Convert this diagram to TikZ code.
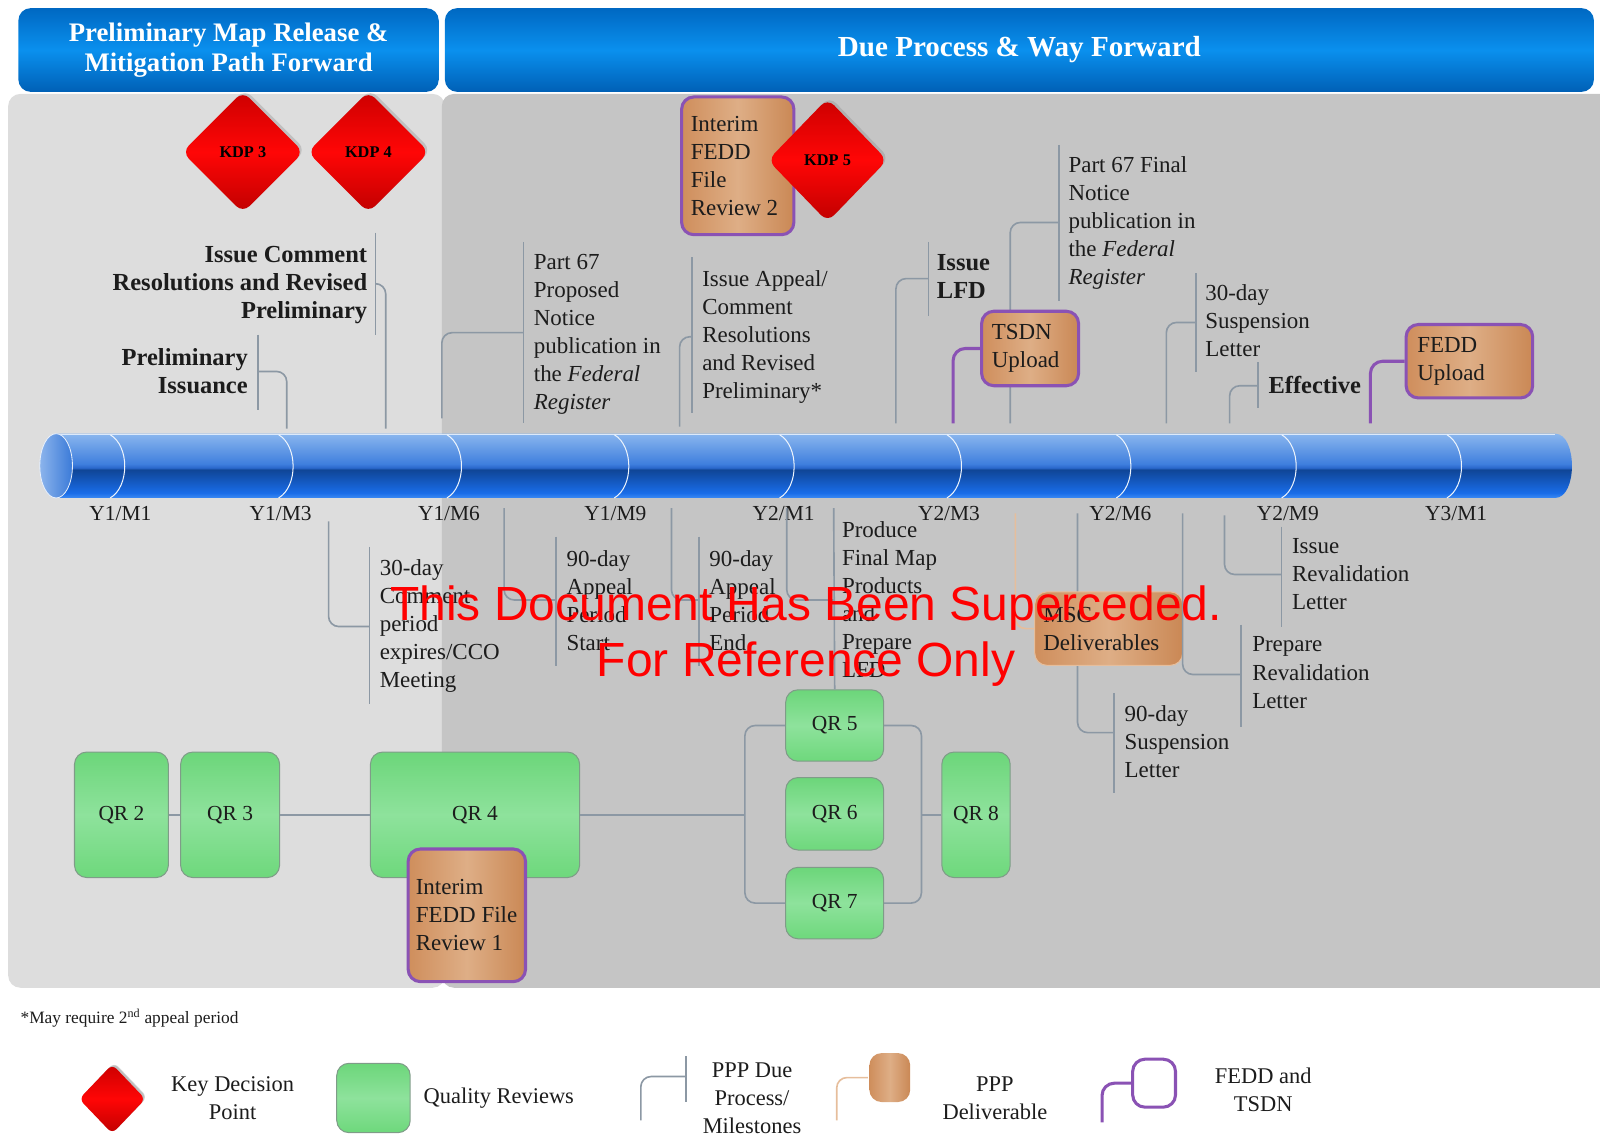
\documentclass[tikz,border=0pt]{standalone}
\usepackage{fontspec}
\setmainfont{Liberation Serif}
\newfontfamily\wmfont{Liberation Sans}
\usetikzlibrary{shapes.geometric,shadows}
\definecolor{hdtop}{HTML}{0068C2}
\definecolor{hdmid}{HTML}{0A90EE}
\definecolor{hdbot}{HTML}{0060B6}
\definecolor{panelL}{HTML}{DDDDDD}
\definecolor{panelR}{HTML}{C5C5C5}
\definecolor{connc}{HTML}{8C98A4}
\definecolor{purp}{HTML}{8A52B4}
\definecolor{tanL}{HTML}{CF8E5C}
\definecolor{tanM}{HTML}{DEAE86}
\definecolor{tanR}{HTML}{CA8855}
\definecolor{tanline}{HTML}{E6BE9C}
\definecolor{grT}{HTML}{6CD67A}
\definecolor{grM}{HTML}{8EE29C}
\definecolor{grB}{HTML}{6ED87C}
\definecolor{grBd}{HTML}{7F9C88}
\definecolor{kdpT}{HTML}{CC0000}
\definecolor{kdpM}{HTML}{FF0606}
\definecolor{kdpB}{HTML}{C00000}
\definecolor{cyA}{HTML}{3C8AF4}
\definecolor{cyB}{HTML}{196CE8}
\definecolor{cyC}{HTML}{0F4596}
\definecolor{cyD}{HTML}{2A68CC}
\definecolor{cyE}{HTML}{3F7FDE}
\definecolor{cyF}{HTML}{8AB6EE}
\definecolor{capL}{HTML}{8CB4EC}
\definecolor{capR}{HTML}{3A7AD8}
\definecolor{txt}{HTML}{1C1C1C}
\pgfdeclareverticalshading{cylshade}{100bp}{color(0bp)=(cyA); color(25bp)=(cyA); color(29bp)=(cyB); color(47bp)=(cyC); color(48.5bp)=(cyD); color(51.5bp)=(cyE); color(75bp)=(cyF); color(100bp)=(cyF)}
\tikzset{
  hdr/.style={rounded corners=12, top color=hdtop, bottom color=hdbot, middle color=hdmid, text=white, align=center, inner sep=0},
  kdp/.style={diamond, aspect=1, minimum width=119, minimum height=119, inner sep=0, rounded corners=9, top color=kdpT, bottom color=kdpB, middle color=kdpM, font=\bfseries\fontsize{16}{18}\selectfont, drop shadow={opacity=.3, shadow xshift=2, shadow yshift=-2}},
  tanbox/.style={rounded corners=12, left color=tanL, right color=tanR, middle color=tanM, draw=purp, line width=3, align=flush left, inner sep=0, text=txt, font=\fontsize{22.5}{27.5}\selectfont},
  qr/.style={rounded corners=12, top color=grT, bottom color=grB, middle color=grM, draw=grBd, line width=1, font=\fontsize{21}{24}\selectfont, inner sep=0, text=txt},
  lbl/.style={font=\fontsize{22.5}{27.5}\selectfont, inner sep=0, align=left, anchor=north west, text=txt},
  lblb/.style={font=\bfseries\fontsize{24}{27.5}\selectfont, inner sep=0, text=txt},
  mon/.style={font=\fontsize{21}{24}\selectfont, inner sep=0, text=txt},
  conn/.style={draw=connc, line width=1.6, rounded corners=10},
  brk/.style={draw=connc, line width=1.6},
  pconn/.style={draw=purp, line width=3, rounded corners=12},
  tconn/.style={draw=tanline, line width=1.6, rounded corners=10},
  wm/.style={font=\wmfont\fontsize{47}{50}\selectfont, text=red, inner sep=0},
  leg/.style={font=\fontsize{22}{27.5}\selectfont, inner sep=0, align=center, text=txt}
}
\begin{document}
\begin{tikzpicture}[x=1pt,y=-1pt]
\useasboundingbox (0,0) rectangle (1568,1114);
% panels
\fill[panelL, rounded corners=12] (8,92) rectangle (436,968);
\fill[panelR, rounded corners=12] (433,92) rectangle (1580,968);
% headers
\node[hdr, minimum width=412, minimum height=82, font=\bfseries\fontsize{26.2}{29}\selectfont] (hdrL) at (224,49) {Preliminary Map Release \&\\Mitigation Path Forward};
\node[hdr, minimum width=1126, minimum height=82, font=\bfseries\fontsize{28.5}{30}\selectfont] (hdrR) at (999,49) {Due Process \& Way Forward};

% ---------- timeline ----------
\path[shading=cylshade] (55,425) -- (1524,425) .. controls (1546,425) and (1546,488) .. (1524,488) -- (55,488) -- cycle;
\draw[white!70!cyF, line width=1] (55,425.5) -- (1524,425.5);
\shade[left color=capL, right color=capR, draw=white!80!cyF, line width=0.8] (55,456.5) ellipse [x radius=16, y radius=31.5];
\foreach \b in {122,287,452,616,778,942,1108,1270,1432}{
  \draw[white!85!cyF, line width=1] (\b-14,426) .. controls (\b+5,437) and (\b+5,477) .. (\b-14,488);
}
\node[mon] (m1) at (118,503) {Y1/M1};
\node[mon] (m3) at (275,503) {Y1/M3};
\node[mon] (m6) at (440,503) {Y1/M6};
\node[mon] (m9) at (603,503) {Y1/M9};
\node[mon] (m12) at (768,503) {Y2/M1};
\node[mon] (m15) at (930,503) {Y2/M3};
\node[mon] (m18) at (1098,503) {Y2/M6};
\node[mon] (m21) at (1262,503) {Y2/M9};
\node[mon] (m24) at (1427,503) {Y3/M1};

% ---------- above the timeline ----------
% Issue Comment Resolutions
\node[lblb, anchor=north east, align=right] (icr) at (360,241) {Issue Comment\\Resolutions and Revised\\Preliminary};
\coordinate (icrT) at (368,228); \coordinate (icrB) at (368,328);
\coordinate (icrJ) at (368,278); \coordinate (icrL) at (378,420);
\draw[brk] (icrT) -- (icrB);
\draw[conn] (icrJ) -| (icrL);
% Preliminary Issuance
\node[lblb, anchor=north east, align=right] (pis) at (243,341) {Preliminary\\Issuance};
\coordinate (pisT) at (253,328); \coordinate (pisB) at (253,402);
\coordinate (pisJ) at (253,364); \coordinate (pisL) at (281,420);
\draw[brk] (pisT) -- (pisB);
\draw[conn] (pisJ) -| (pisL);
% Part 67 Proposed
\node[lbl] (ppn) at (523,249) {Part 67\\Proposed\\Notice\\publication in\\the \textit{Federal}\\\textit{Register}};
\coordinate (ppnT) at (513,237); \coordinate (ppnB) at (513,415);
\coordinate (ppnJ) at (513,326); \coordinate (ppnL) at (433,410);
\draw[brk] (ppnT) -- (ppnB);
\draw[conn] (ppnJ) -| (ppnL);
% Issue Appeal
\node[lbl] (iap) at (688,265) {Issue Appeal/\\Comment\\Resolutions\\and Revised\\Preliminary*};
\coordinate (iapT) at (678,252); \coordinate (iapB) at (678,405);
\coordinate (iapJ) at (678,330); \coordinate (iapL) at (666,418);
\draw[brk] (iapT) -- (iapB);
\draw[conn] (iapJ) -| (iapL);
% Issue LFD
\node[lblb, anchor=north west, align=left] (lfd) at (918,249) {Issue\\LFD};
\coordinate (lfdT) at (910,237); \coordinate (lfdB) at (910,310);
\coordinate (lfdJ) at (910,273); \coordinate (lfdL) at (878,415);
\draw[brk] (lfdT) -- (lfdB);
\draw[conn] (lfdJ) -| (lfdL);
% Part 67 Final
\node[lbl] (pfn) at (1047,153) {Part 67 Final\\Notice\\publication in\\the \textit{Federal}\\\textit{Register}};
\coordinate (pfnT) at (1038,142); \coordinate (pfnB) at (1038,295);
\coordinate (pfnJ) at (1038,218); \coordinate (pfnL) at (990,415);
\draw[brk] (pfnT) -- (pfnB);
\draw[conn] (pfnJ) -| (pfnL);
% TSDN Upload
\node[tanbox, minimum width=95, minimum height=73, text width=75] (tsdn) at (1009.5,341.5) {TSDN\\Upload};
\coordinate (tsdnL) at (934,415);
\draw[pconn] (tsdn.west) -| (tsdnL);
% 30-day Suspension
\node[lbl] (s30) at (1181,279) {30-day\\Suspension\\Letter};
\coordinate (s30T) at (1172,268); \coordinate (s30B) at (1172,365);
\coordinate (s30J) at (1172,316); \coordinate (s30L) at (1143,415);
\draw[brk] (s30T) -- (s30B);
\draw[conn] (s30J) -| (s30L);
% Effective
\node[lblb, anchor=west] (eff) at (1243,377) {Effective};
\coordinate (effT) at (1233,355); \coordinate (effB) at (1233,400);
\coordinate (effJ) at (1233,378); \coordinate (effL) at (1205,415);
\draw[brk] (effT) -- (effB);
\draw[conn] (effJ) -| (effL);
% FEDD Upload
\node[tanbox, minimum width=124, minimum height=72, text width=102] (fedd) at (1440,354) {FEDD\\Upload};
\coordinate (feddL) at (1343,415);
\draw[pconn] (fedd.west) -| (feddL);
% KDPs and Interim FEDD File Review 2
\node[kdp] (kdp3) at (238,149) {KDP 3};
\node[kdp] (kdp4) at (361,149) {KDP 4};
\node[tanbox, minimum width=110, minimum height=135, text width=92] (ifr2) at (723,162.5) {Interim\\FEDD\\File\\Review 2};
\node[kdp, minimum width=117, minimum height=121] (kdp5) at (811,157) {KDP 5};

% ---------- below the timeline ----------
% 30-day Comment period
\node[lbl] (c30) at (372,548) {30-day\\Comment\\period\\expires/CCO\\Meeting};
\coordinate (c30T) at (362,536); \coordinate (c30B) at (362,690);
\coordinate (c30J) at (362,614); \coordinate (c30U) at (322,511);
\draw[brk] (c30T) -- (c30B);
\draw[conn] (c30U) |- (c30J);
% 90-day Appeal Start
\node[lbl] (aps) at (555,539) {90-day\\Appeal\\Period\\Start};
\coordinate (apsT) at (545,526); \coordinate (apsB) at (545,653);
\coordinate (apsJ) at (545,588); \coordinate (apsU) at (494,498);
\draw[brk] (apsT) -- (apsB);
\draw[conn] (apsU) |- (apsJ);
% 90-day Appeal End
\node[lbl] (ape) at (695,539) {90-day\\Appeal\\Period\\End};
\coordinate (apeT) at (685,526); \coordinate (apeB) at (685,653);
\coordinate (apeJ) at (685,588); \coordinate (apeU) at (658,498);
\draw[brk] (apeT) -- (apeB);
\draw[conn] (apeU) |- (apeJ);
% QR boxes
\node[qr, minimum width=92, minimum height=123] (qr2) at (119,798.5) {QR 2};
\node[qr, minimum width=97, minimum height=123] (qr3) at (225.5,798.5) {QR 3};
\node[qr, minimum width=205, minimum height=123] (qr4) at (465.5,798.5) {QR 4};
\node[qr, minimum width=96, minimum height=70] (qr5) at (818,711) {QR 5};
\node[qr, minimum width=96, minimum height=71] (qr6) at (818,797.5) {QR 6};
\node[qr, minimum width=96, minimum height=70] (qr7) at (818,885) {QR 7};
\node[qr, minimum width=67, minimum height=123] (qr8) at (956.5,798.5) {QR 8};
\coordinate (jl) at (730,798.5); \coordinate (jr) at (903,798.5);
\draw[conn] (qr2.east) -- (qr3.west);
\draw[conn] (qr3.east) -- (qr4.west);
\draw[conn] (qr4.east) -- (jl);
\draw[conn] (qr5.west) -| (jl) |- (qr7.west);
\draw[conn] (qr5.east) -| (jr) |- (qr7.east);
\draw[conn] (jr) -- (qr8.west);
\node[tanbox, minimum width=115, minimum height=130, text width=100] (ifr1) at (457.5,897) {Interim\\FEDD File\\Review 1};
% Produce Final Map Products
\node[lbl] (pfm) at (825,511) {Produce\\Final Map\\Products\\and\\Prepare\\LFD};
\coordinate (pfmT) at (817,498);
\coordinate (pfmJ) at (817,588); \coordinate (pfmU) at (771,498);
\draw[brk] (pfmT) -- (qr5.north);
\draw[conn] (pfmU) |- (pfmJ);
% 90-day Suspension
\node[lbl] (s90) at (1102,691) {90-day\\Suspension\\Letter};
\coordinate (s90T) at (1092,679); \coordinate (s90B) at (1092,777);
\coordinate (s90J) at (1092,718); \coordinate (s90U) at (1056,503);
\draw[brk] (s90T) -- (s90B);
\draw[conn] (s90U) |- (s90J);
% MSC Deliverables
\coordinate (mscU) at (995,503);
\node[tanbox, draw=tanline, line width=1, minimum width=145, minimum height=72, text width=128] (msc) at (1086.5,616) {MSC\\Deliverables};
\draw[tconn] (mscU) |- (msc.west);
% Prepare Revalidation Letter
\node[lbl] (prl) at (1227,624) {Prepare\\Revalidation\\Letter};
\coordinate (prlT) at (1216,612); \coordinate (prlB) at (1216,712);
\coordinate (prlJ) at (1216,661); \coordinate (prlU) at (1159,503);
\draw[brk] (prlT) -- (prlB);
\draw[conn] (prlU) |- (prlJ);
% Issue Revalidation Letter
\node[lbl] (irl) at (1266,527) {Issue\\Revalidation\\Letter};
\coordinate (irlT) at (1256,516); \coordinate (irlB) at (1256,614);
\coordinate (irlJ) at (1256,563); \coordinate (irlU) at (1200,505);
\draw[brk] (irlT) -- (irlB);
\draw[conn] (irlU) |- (irlJ);

% ---------- footnote and legend ----------
\node[anchor=west, font=\fontsize{17}{20}\selectfont, inner sep=0, text=txt] (fn) at (20,998) {*May require 2\textsuperscript{nd} appeal period};
\node[kdp, minimum width=65, minimum height=68, rounded corners=6, drop shadow={opacity=.3, shadow xshift=1.5, shadow yshift=-1.5}] (kdpL) at (110,1077) {};
\node[leg] (kdpT) at (228,1076) {Key Decision\\Point};
\node[qr, minimum width=72, minimum height=68] (qrL) at (366,1076) {};
\node[leg, anchor=west] (qrT) at (415,1076) {Quality Reviews};
\coordinate (pdT) at (672,1035); \coordinate (pdB) at (672,1080);
\coordinate (pdJ) at (672,1055); \coordinate (pdL) at (628,1098);
\draw[brk] (pdT) -- (pdB);
\draw[conn] (pdJ) -| (pdL);
\node[leg] (pdX) at (737,1076) {PPP Due\\Process/\\Milestones};
\node[tanbox, draw=none, minimum width=40, minimum height=48] (tanL1) at (872,1056) {};
\coordinate (tanLL) at (820,1098);
\draw[tconn] (tanL1.west) -| (tanLL);
\node[leg] (tanX) at (975,1076) {PPP\\Deliverable};
\node[draw=purp, line width=3, rounded corners=12, minimum width=42, minimum height=47, inner sep=0] (pL) at (1131,1061.5) {};
\coordinate (pLL) at (1080,1100);
\draw[pconn] (pL.west) -| (pLL);
\node[leg] (pX) at (1238,1068) {FEDD and\\TSDN};

% ---------- watermark ----------
\node[wm, anchor=base] (wm1) at (790,608) {This Document Has Been Superceded.};
\node[wm, anchor=base] (wm2) at (790,663) {For Reference Only};
\end{tikzpicture}
\end{document}
